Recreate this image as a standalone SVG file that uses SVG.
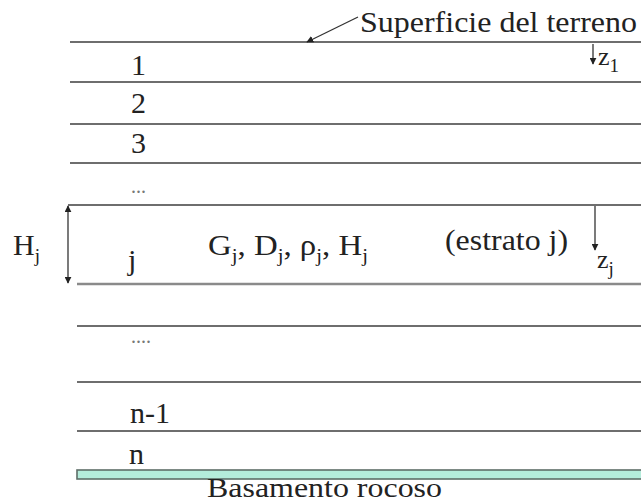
<svg xmlns="http://www.w3.org/2000/svg" width="641" height="504" viewBox="0 0 641 504">
<style>
text{font-family:'Liberation Serif','Times New Roman',serif;font-size:30px;fill:#222}
.s{font-size:19px}
.ln{stroke:#6e6e6e;stroke-width:2;fill:none}
.ar{stroke:#333;stroke-width:1.3;fill:none}
</style>
<defs>
<marker id="ah" viewBox="0 0 10 10" refX="9" refY="5" markerWidth="7" markerHeight="7" orient="auto-start-reverse" markerUnits="userSpaceOnUse">
<path d="M0,0 L10,5 L0,10 z" fill="#222"/>
</marker>
</defs>
<rect width="641" height="504" fill="#fff"/>
<g id="layers">
<line class="ln" x1="70" y1="42" x2="641" y2="42"/>
<line class="ln" x1="70" y1="82" x2="641" y2="82"/>
<line class="ln" x1="70" y1="124" x2="641" y2="124"/>
<line class="ln" x1="70" y1="163" x2="641" y2="163"/>
<line class="ln" x1="68" y1="205" x2="641" y2="205"/>
<line class="ln" x1="77" y1="284" x2="641" y2="284" style="stroke:#8a8a8a;stroke-width:2.5"/>
<line class="ln" x1="77" y1="326" x2="641" y2="326"/>
<line class="ln" x1="77" y1="382" x2="641" y2="382"/>
<line class="ln" x1="77" y1="431" x2="641" y2="431"/>
</g>
<g id="bedrock">
<rect x="77" y="470" width="570" height="9" fill="#b4ecdb" stroke="#5e6e68" stroke-width="1.6"/>
<text x="207" y="497" textLength="235" lengthAdjust="spacingAndGlyphs" style="font-size:27px">Basamento rocoso</text>
</g>
<g id="labels">
<text x="131" y="75">1</text>
<text x="131" y="113">2</text>
<text x="131" y="153">3</text>
<text x="131" y="193" style="font-size:20px;fill:#777">...</text>
<text x="128" y="270">j</text>
<text x="131" y="343" style="font-size:20px;fill:#777">....</text>
<text x="130" y="423">n-1</text>
<text x="129" y="464">n</text>
</g>
<g id="surface">
<text x="360" y="32" textLength="277" lengthAdjust="spacingAndGlyphs">Superficie del terreno</text>
</g>
<g id="z1">
<text x="598" y="65" style="font-size:26px">z<tspan class="s" dy="7">1</tspan></text>
</g>
<g id="stratum-j">
<text x="13" y="255">H<tspan class="s" dy="7">j</tspan></text>
<text x="208" y="255" textLength="160" lengthAdjust="spacingAndGlyphs">G<tspan class="s" dy="7">j</tspan><tspan dy="-7">, D</tspan><tspan class="s" dy="7">j</tspan><tspan dy="-7">, ρ</tspan><tspan class="s" dy="7">j</tspan><tspan dy="-7">, H</tspan><tspan class="s" dy="7">j</tspan></text>
<text x="445" y="250" textLength="123" lengthAdjust="spacingAndGlyphs">(estrato j)</text>
<text x="597" y="268" style="font-size:26px">z<tspan class="s" dy="7">j</tspan></text>
</g>
<g id="connectors">
<line class="ar" x1="358" y1="17" x2="307" y2="42" marker-end="url(#ah)"/>
<line class="ar" x1="593" y1="44" x2="593" y2="64" marker-end="url(#ah)"/>
<line class="ar" x1="595" y1="206" x2="595" y2="250" marker-end="url(#ah)"/>
<line class="ar" x1="68" y1="206" x2="68" y2="283" marker-start="url(#ah)" marker-end="url(#ah)"/>
</g>
</svg>
